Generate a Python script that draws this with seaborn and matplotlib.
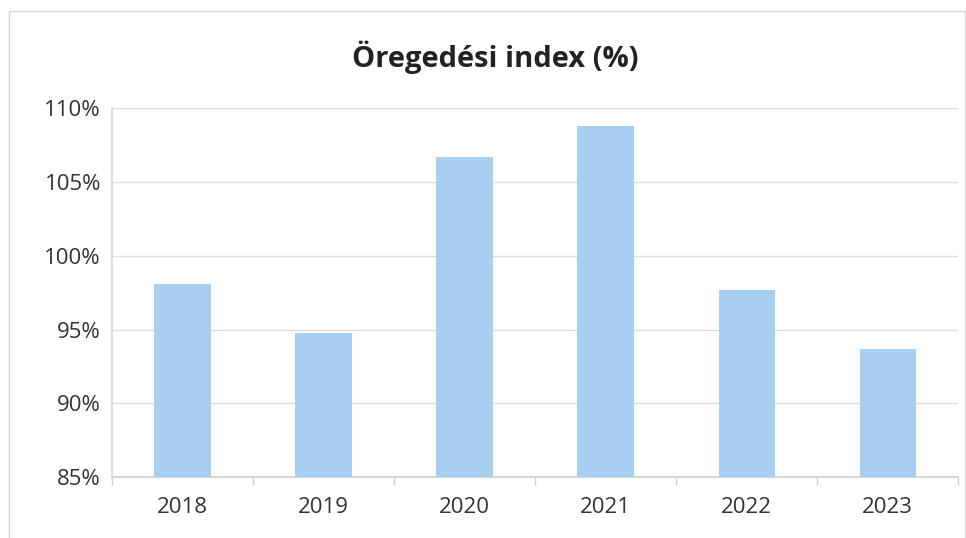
import matplotlib
matplotlib.use("Agg")
import matplotlib.pyplot as plt
import seaborn as sns
import pandas as pd
import numpy as np

# values
years = ["2018", "2019", "2020", "2021", "2022", "2023"]
index_pct = [98.1, 94.8, 106.7, 108.8, 97.7, 93.7]
y_ticks = [85, 90, 95, 100, 105, 110]

df = pd.DataFrame({"year": years, "value": index_pct})

sns.set_theme(style="white")
plt.rcParams["font.family"] = ["Open Sans", "DejaVu Sans"]

fig = plt.figure(figsize=(9.66, 5.38), dpi=100)
ax = fig.add_axes([0.116, 0.113, 0.876, 0.686])

sns.barplot(data=df, x="year", y="value", color="#a6cff0", width=0.4,
            saturation=1, linewidth=0, ax=ax, zorder=3)

# bars start at the axis floor, not at zero
for p in ax.patches:
    top = p.get_height()
    p.set_y(85)
    p.set_height(top - 85)

ax.set_ylim(85, 110)
ax.set_yticks(y_ticks)
ax.set_yticklabels([f"{t}%" for t in y_ticks])
ax.set_xlim(-0.5, len(years) - 0.5)
ax.yaxis.grid(True, color="#dcdcdc", linewidth=1, zorder=0)
ax.set_xlabel("")
ax.set_ylabel("")

for s in ["top", "right"]:
    ax.spines[s].set_visible(False)
ax.spines["left"].set_color("#d8d8d8")
ax.spines["bottom"].set_color("#d0d0d0")

# category separator ticks on the x axis
ax.set_xticks(np.arange(len(years)))
ax.set_xticks(np.arange(-0.5, len(years)), minor=True)
ax.tick_params(axis="x", which="major", length=0, pad=14, labelsize=16, labelcolor="#333333")
ax.tick_params(axis="x", which="minor", length=6, color="#d0d0d0", bottom=True)
ax.tick_params(axis="y", length=0, pad=8, labelsize=16, labelcolor="#333333")

fig.text(0.513, 0.893, "Öregedési index (%)", ha="center", va="center",
         fontsize=21, fontweight="bold", color="#222222")

# outer chart frame
fig.patches.append(plt.Rectangle((0.009, -0.01), 0.99, 0.99, transform=fig.transFigure,
                                 fill=False, edgecolor="#d8d8d8", linewidth=1))

fig.savefig("out.png", dpi=100)
